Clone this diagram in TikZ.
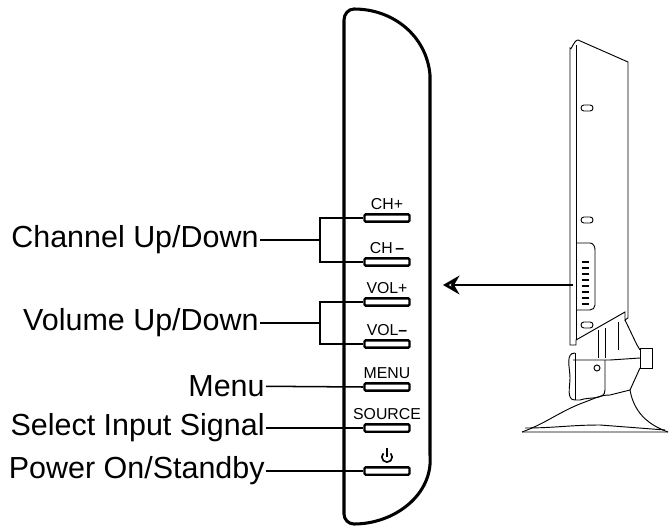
\documentclass[tikz,border=0pt]{standalone}
\usepackage{fontspec}
\setmainfont{Liberation Sans}
\usetikzlibrary{positioning,arrows.meta}
\tikzset{
    lbl/.style = {
       font=\fontsize{26}{30}\selectfont,
       anchor=east,
       inner sep=1pt
    },
    btn/.style = {
       shape=rectangle, rounded corners=1pt,
       draw, line width=2pt,
       minimum width = 1.35cm,
       minimum height = .22cm,
       inner sep=0pt
    },
    btntext/.style = {
       font=\fontsize{13.5}{15}\selectfont,
       inner sep=0pt
    },
    lead/.style = {line width=1.3pt},
    tv/.style = {line width=.8pt},
    slot/.style = {tv, rounded corners=2.5pt}
}
\begin{document}
\begin{tikzpicture}[x=0.03cm,y=-0.03cm]
   \useasboundingbox (0,0) rectangle (670,531);
   % control panel
   \draw[line width=2.6pt] (344,20) to[out=90,in=180] (354,9)
      to[out=0,in=95] (430,75) -- (430,455) to[out=-85,in=0] (354,524)
      to[out=180,in=-90] (344,514) -- cycle;
   % buttons
   \node[btn] (CHup) at (387,218) {};
   \node[btn] (CHdown) at (387,262) {};
   \node[btn] (VOLup) at (387,302) {};
   \node[btn] (VOLdown) at (387,344) {};
   \node[btn] (Menu) at (387,387) {};
   \node[btn] (Source) at (387,428) {};
   \node[btn] (Power) at (387,471) {};
   \node[btntext] [above = 3pt of CHup] {CH+};
   \node[btntext] [above = 3pt of CHdown] {CH\,\textbf{--}};
   \node[btntext] [above = 3pt of VOLup] {VOL+};
   \node[btntext] [above = 3pt of VOLdown] {VOL\textbf{--}};
   \node[btntext] [above = 3pt of Menu] {MENU};
   \node[btntext] [above = 3pt of Source] {SOURCE};
   \coordinate (pw) at (387,457);
   \draw[line width=1.4pt] (pw) ++(0.11cm,0.11cm)
      arc[start angle=45,end angle=-225,radius=0.155cm];
   \draw[line width=1.4pt] (387,448) -- (387,457);
   % labels
   \node[lbl] (ChannelUpDown) at (260,240) {Channel Up/Down};
   \node[lbl] (VolumeUpDown) at (260,323) {Volume Up/Down};
   \node[lbl] (MenuLbl) at (266,386) {Menu};
   \node[lbl] (SelectInput) at (266,428) {Select Input Signal};
   \node[lbl] (PowerLbl) at (266,471) {Power On/Standby};
   \coordinate (chb) at (320,240);
   \coordinate (volb) at (320,323);
\path[lead]
(ChannelUpDown) edge (chb)
(VolumeUpDown) edge (volb);
   \draw[lead] (CHup.west) -| (chb) |- (CHdown.west);
   \draw[lead] (VOLup.west) -| (volb) |- (VOLdown.west);
   \draw[lead] (MenuLbl) -- (Menu.west);
   \draw[lead] (SelectInput) -- (Source.west);
   \draw[lead] (PowerLbl) -- (Power.west);
   % side view of the set
   \coordinate (sidekeys) at (573,285);
   \draw[tv] (570,48) to[out=-80,in=180] (578,40) -- (628,62) -- (628,318)
      -- (625,320) -- (625,312) -- (576,340) -- (576,345) -- (570,345) -- cycle;
   \draw[tv] (576,45) -- (576,340);
   \draw[tv] (577,243) -- (590,243) to[out=0,in=90] (595,250) -- (595,305)
      to[out=-90,in=0] (590,310) -- (577,310);
   \foreach \y in {262,268,...,304} \draw[line width=1.5pt] (582,\y) -- (589,\y);
   \foreach \y in {108,220,325}
      \draw[slot] (581,\y-3) rectangle (593,\y+3);
   \draw[tv] (598,330) -- (598,358) (605,328) -- (605,358) (618,322) -- (618,350);
   \draw[tv] (625,320) -- (637,345) -- (640,350);
   \draw[tv] (640,348) rectangle (652,368);
   \draw[tv] (573,360) -- (610,360) -- (640,358);
   \draw[tv] (575,353) to[out=180,in=90] (570,378) to[out=-90,in=180] (575,400) -- (580,400)
      to[out=20,in=-90] (605,390) -- (605,360);
   \draw[tv] (575,353) -- (575,400);
   \draw[tv] (597,368) circle[radius=0.09cm];
   \draw[tv] (522,432) to[out=20,in=200] (585,402) to[out=20,in=180] (610,395)
      -- (630,390) -- (640,368);
   \draw[tv] (630,390) to[out=-80,in=160] (668,432);
   \draw[tv] (522,432) -- (668,432) (525,428) to[out=0,in=180] (600,425) -- (665,430);
   % arrow to panel
   \draw[-{Stealth[open,length=14pt,width=16pt]},line width=2.4pt] (sidekeys) -- (443,285);
\end{tikzpicture}
\end{document}
